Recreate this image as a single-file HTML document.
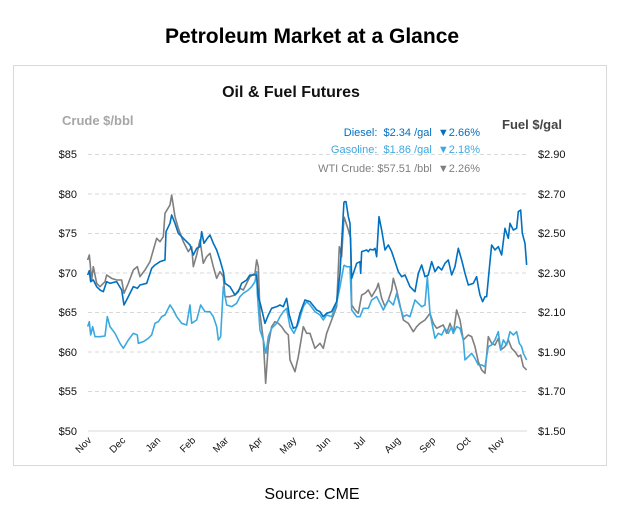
<!DOCTYPE html>
<html><head><style>
body{margin:0;background:#fff;width:625px;height:517px;overflow:hidden;font-family:"Liberation Sans",sans-serif;}
.pre{white-space:pre;}
</style></head><body>
<svg width="625" height="517" xmlns="http://www.w3.org/2000/svg" font-family="Liberation Sans, sans-serif">
<text x="312" y="43" text-anchor="middle" font-size="21" font-weight="bold" fill="#000">Petroleum Market at a Glance</text>
<rect x="13.5" y="65.5" width="593" height="400" fill="#fff" stroke="#d9d9d9"/>
<text x="291" y="97" text-anchor="middle" font-size="16" font-weight="bold" fill="#111">Oil &amp; Fuel Futures</text>
<text x="62" y="125" font-size="13" font-weight="bold" fill="#a6a6a6">Crude $/bbl</text>
<text x="502" y="129" font-size="13" font-weight="bold" fill="#444">Fuel $/gal</text>
<g font-size="11" text-anchor="end" class="pre">
<text x="480" y="136" fill="#0070c0" class="pre">Diesel:  $2.34 /gal  ▼2.66%</text>
<text x="480" y="153" fill="#3ba9e0" class="pre">Gasoline:  $1.86 /gal  ▼2.18%</text>
<text x="480" y="172" fill="#7f7f7f" class="pre">WTI Crude: $57.51 /bbl  ▼2.26%</text>
</g>
<g stroke="#d9d9d9" stroke-dasharray="4,3" stroke-width="1">
<line x1="88" x2="527" y1="154.5" y2="154.5"/><line x1="88" x2="527" y1="194" y2="194"/>
<line x1="88" x2="527" y1="233.5" y2="233.5"/><line x1="88" x2="527" y1="273" y2="273"/>
<line x1="88" x2="527" y1="312.5" y2="312.5"/><line x1="88" x2="527" y1="352" y2="352"/>
<line x1="88" x2="527" y1="391.5" y2="391.5"/>
</g>
<line x1="88" x2="527" y1="431" y2="431" stroke="#d9d9d9"/>
<g font-size="11" fill="#111" text-anchor="end">
<text x="77" y="158">$85</text><text x="77" y="198">$80</text><text x="77" y="237">$75</text>
<text x="77" y="277">$70</text><text x="77" y="316">$65</text><text x="77" y="356">$60</text>
<text x="77" y="395">$55</text><text x="77" y="435">$50</text>
</g>
<g font-size="11" fill="#111">
<text x="538" y="158">$2.90</text><text x="538" y="198">$2.70</text><text x="538" y="237">$2.50</text>
<text x="538" y="277">$2.30</text><text x="538" y="316">$2.10</text><text x="538" y="356">$1.90</text>
<text x="538" y="395">$1.70</text><text x="538" y="435">$1.50</text>
</g>
<g font-size="10" fill="#111" text-anchor="end">
<text transform="translate(92,441) rotate(-45)">Nov</text>
<text transform="translate(126,441) rotate(-45)">Dec</text>
<text transform="translate(161,441) rotate(-45)">Jan</text>
<text transform="translate(196,441) rotate(-45)">Feb</text>
<text transform="translate(229,441) rotate(-45)">Mar</text>
<text transform="translate(263,441) rotate(-45)">Apr</text>
<text transform="translate(297,441) rotate(-45)">May</text>
<text transform="translate(331,441) rotate(-45)">Jun</text>
<text transform="translate(366,441) rotate(-45)">Jul</text>
<text transform="translate(401,441) rotate(-45)">Aug</text>
<text transform="translate(436,441) rotate(-45)">Sep</text>
<text transform="translate(471,441) rotate(-45)">Oct</text>
<text transform="translate(505,441) rotate(-45)">Nov</text>
</g>
<g fill="none" stroke-width="1.6" stroke-linejoin="round">
<g transform="translate(50,180) scale(0.3333)">
<polyline vector-effect="non-scaling-stroke" stroke="#7f7f7f" points="113,240 118,225 125,300 130,260 140,310 150,320 165,305 170,285 185,295 200,300 215,300 222,340 235,310 250,270 262,260 270,290 285,270 300,245 320,175 330,185 340,170 345,100 360,75 365,45 375,110 385,145 400,185 415,215 425,200 430,260 440,225 450,180 460,250 470,230 480,220 490,260 500,295 510,275 520,290 525,350 540,350 555,345 570,325 580,330 600,290 615,280 620,240 625,260 630,400 640,480 647,610 655,495 665,440 675,425 685,430 695,440 705,455 715,465 720,540 735,575 745,530 760,440 770,460 780,460 795,505 810,490 820,505 830,460 845,420 860,380 868,200 875,230 882,110"/>
<polyline vector-effect="non-scaling-stroke" stroke="#3ba9e0" points="113,440 118,425 122,465 128,440 135,470 150,470 165,468 172,410 180,440 195,460 210,490 220,505 235,480 250,460 262,465 265,490 280,485 295,475 305,465 315,430 325,425 335,410 345,405 350,395 360,375 370,390 380,410 395,430 410,435 420,375 425,430 440,420 452,375 465,395 480,395 490,410 500,440 505,480 512,470 520,320 530,375 545,380 560,370 570,350 580,340 595,330 605,320 615,305 620,275 622,340 630,450 640,480 648,520 655,470 665,445 680,430 690,410 700,395 710,385 720,440 732,460 745,430 760,380 770,365 780,375 795,395 810,405 820,420 830,405 845,410 860,370 870,320 882,255"/>
<polyline vector-effect="non-scaling-stroke" stroke="#0070c0" points="113,285 118,272 122,305 130,300 140,320 150,330 160,335 170,305 180,310 200,305 215,330 222,375 235,350 250,320 262,325 270,315 290,310 305,265 315,255 330,245 345,240 348,155 360,130 365,105 375,130 385,160 400,175 410,185 420,195 430,225 440,205 450,200 455,155 462,190 472,175 480,165 490,190 500,210 510,240 520,275 525,310 540,320 555,345 565,335 575,310 590,300 600,285 620,285 625,350 632,375 645,430 655,405 665,385 680,380 690,375 700,380 710,355 718,405 730,445 740,440 750,400 765,360 780,365 800,390 810,395 820,410 830,400 845,395 860,365 870,280 882,65"/>
</g>
<g transform="translate(310,180) scale(0.3333)">
<polyline vector-effect="non-scaling-stroke" stroke="#7f7f7f" points="102,110 115,150 122,175 125,375 135,390 145,400 155,345 165,340 175,330 185,350 200,325 205,310 215,355 225,380 235,360 245,330 250,295 260,330 270,375 280,420 295,430 310,455 320,440 330,430 345,420 360,400 370,430 380,445 390,440 400,435 410,460 420,430 430,460 440,390 450,420 460,480 475,465 485,470 495,500 505,545 515,570 525,580 535,470 545,490 555,495 565,475 572,510 585,500 595,480 605,505 615,515 625,530 632,525 640,560 650,570"/>
<polyline vector-effect="non-scaling-stroke" stroke="#3ba9e0" points="102,255 110,260 120,260 125,390 140,410 150,410 160,385 175,385 185,360 200,350 210,370 220,390 235,360 250,375 260,340 270,380 280,410 290,405 300,410 315,360 320,365 335,380 345,375 352,290 360,400 375,475 385,460 395,465 405,445 415,460 425,440 430,460 440,440 450,445 460,480 465,540 475,530 485,520 495,535 505,555 515,555 525,560 535,500 545,495 555,480 565,455 572,510 580,480 590,495 600,455 610,465 620,455 628,490 635,500 640,520 650,540"/>
<polyline vector-effect="non-scaling-stroke" stroke="#0070c0" points="102,65 108,65 115,110 120,130 125,295 140,250 150,245 152,280 155,215 170,210 175,215 180,208 190,210 195,205 200,230 207,110 215,150 225,210 235,195 245,215 255,245 265,275 275,290 285,285 300,320 315,335 325,280 335,255 345,290 355,285 365,245 375,275 385,260 395,270 405,250 415,240 425,285 435,260 445,205 455,240 465,280 475,315 490,310 500,290 505,320 510,345 518,365 525,350 530,350 540,245 545,195 555,210 565,200 575,225 585,145 595,175 600,130 610,150 620,145 625,95 632,90 637,160 645,190 650,255"/>
</g>
</g>
<text x="312" y="499" text-anchor="middle" font-size="16" fill="#000">Source: CME</text>
</svg>
</body></html>
